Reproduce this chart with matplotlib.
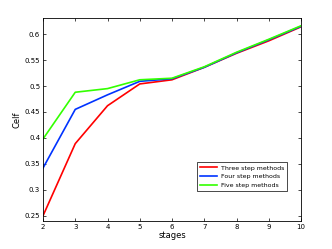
import matplotlib
matplotlib.use("Agg")
import matplotlib.pyplot as plt

stages = [2, 3, 4, 5, 6, 7, 8, 9, 10]
three_step = [0.250, 0.389, 0.462, 0.504, 0.512, 0.536, 0.563, 0.587, 0.614]
four_step = [0.342, 0.455, 0.483, 0.509, 0.514, 0.536, 0.564, 0.589, 0.615]
five_step = [0.398, 0.488, 0.495, 0.512, 0.515, 0.537, 0.565, 0.590, 0.616]
yticks = [0.25, 0.3, 0.35, 0.4, 0.45, 0.5, 0.55, 0.6]

fig = plt.figure(figsize=(3.32, 2.49), dpi=100)
ax = fig.add_axes([43 / 332, 1 - 221 / 249, 258 / 332, 203 / 249])

ax.plot(stages, three_step, color="#ff0000", lw=1.2, label="Three step methods")
ax.plot(stages, four_step, color="#0033ff", lw=1.2, label="Four step methods")
ax.plot(stages, five_step, color="#33ff00", lw=1.2, label="Five step methods")

ax.set_xlim(2, 10)
ax.set_ylim(0.24, 0.631)
ax.set_xticks(stages)
ax.set_yticks(yticks)
ax.set_yticklabels([f"{v:g}" for v in yticks])
ax.tick_params(direction="in", length=2.5, width=0.5, labelsize=5,
               top=True, right=True, pad=2)
for s in ax.spines.values():
    s.set_linewidth(0.6)

ax.set_xlabel("stages", fontsize=6, labelpad=1)
ax.set_ylabel("Celf", fontsize=6, labelpad=2)

leg = ax.legend(loc="lower right", bbox_to_anchor=(0.946, 0.148), fontsize=4.5,
                fancybox=False, edgecolor="black", framealpha=1,
                handlelength=2.8, handletextpad=0.6, borderpad=0.45,
                labelspacing=0.55, borderaxespad=0)
leg.get_frame().set_linewidth(0.5)

fig.savefig("out.png", dpi=100)
